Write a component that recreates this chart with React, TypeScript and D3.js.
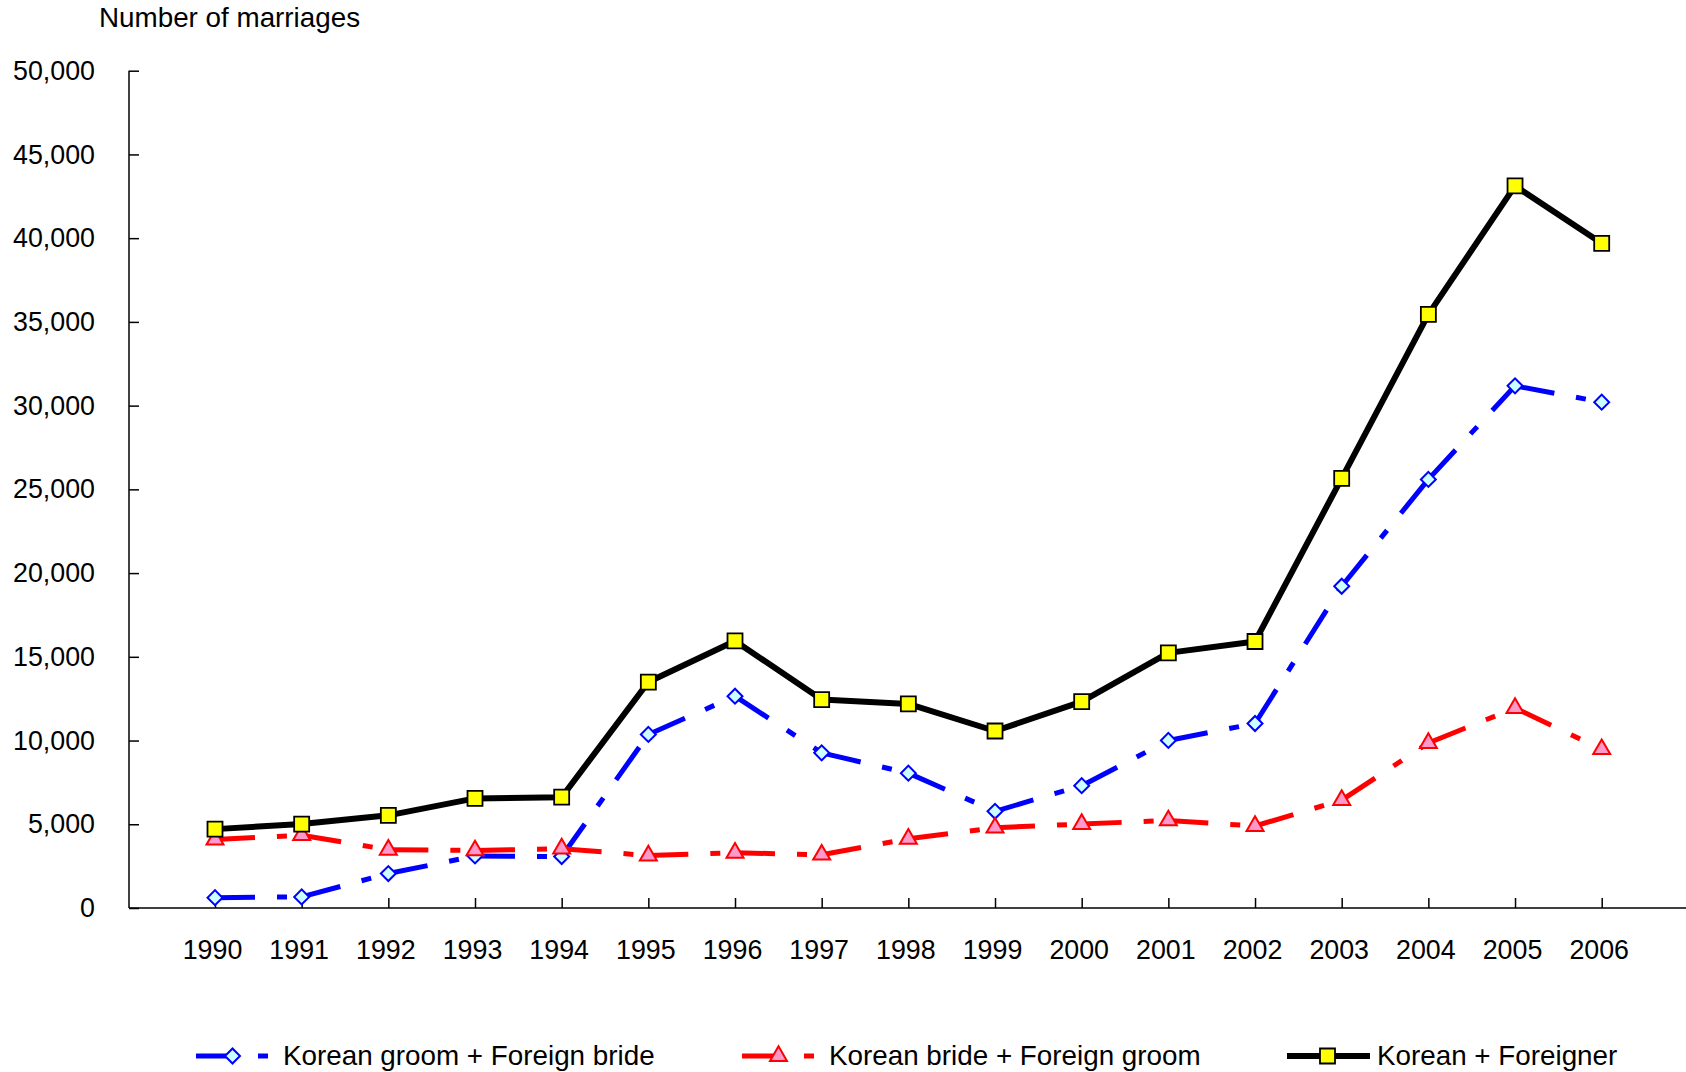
import React, { useEffect, useRef } from 'react';
import * as d3 from 'd3';

// Years on the category axis
const years = ['1990', '1991', '1992', '1993', '1994', '1995', '1996', '1997', '1998', '1999',
  '2000', '2001', '2002', '2003', '2004', '2005', '2006'];

// Korean groom + Foreign bride
const groomForeignBride = [619, 663, 2057, 3109, 3072, 10365, 12647, 9266, 8054, 5775,
  7304, 10006, 11017, 19214, 25594, 31180, 30208];

// Korean bride + Foreign groom
const brideForeignGroom = [4091, 4349, 3477, 3436, 3544, 3129, 3299, 3182, 4134, 4795,
  5015, 5228, 4896, 6444, 9853, 11941, 9482];

// Korean + Foreigner (total)
const koreanForeigner = [4710, 5012, 5534, 6545, 6616, 13494, 15946, 12448, 12188, 10570,
  12319, 15234, 15913, 25658, 35447, 43121, 39690];

const yTicks = [0, 5000, 10000, 15000, 20000, 25000, 30000, 35000, 40000, 45000, 50000];

const seriesNames = ['Korean groom + Foreign bride', 'Korean bride + Foreign groom', 'Korean + Foreigner'];

const App = () => {
  const chartRef = useRef<SVGSVGElement>(null);

  useEffect(() => {
    drawChart();
  }, []);

  const drawChart = () => {
    const width = 1686;
    const height = 1072;
    const font = "'Liberation Sans', Arial, sans-serif";

    const svg = d3.select(chartRef.current);
    svg.selectAll('*').remove();
    svg.attr('width', width).attr('height', height)
      .attr('viewBox', [0, 0, width, height] as any)
      .attr('style', 'position: absolute; left: 0; top: 0; background: white;');

    const x = d3.scalePoint<string>().domain(years).range([215, 1601.7]);
    const y = d3.scaleLinear().domain([0, 50000]).range([908, 70.7]);

    // y axis
    const yAxis = svg.append('g')
      .attr('transform', 'translate(129,0)')
      .call(d3.axisLeft(y).tickValues(yTicks).tickSize(-10).tickPadding(34)
        .tickFormat((d: any) => d3.format(',')(d)));
    yAxis.select('.domain').remove();
    yAxis.selectAll('line').attr('stroke', '#000').attr('stroke-width', 1.5);
    yAxis.selectAll('text').attr('font-family', font).attr('font-size', 26.8).attr('fill', '#000');
    svg.append('line')
      .attr('x1', 129).attr('x2', 129).attr('y1', y(50000)).attr('y2', y(0))
      .attr('stroke', '#000').attr('stroke-width', 1.5);

    // x axis
    const xAxis = svg.append('g')
      .attr('transform', `translate(0,${y(0)})`)
      .call(d3.axisBottom(x).tickSize(-10).tickPadding(32));
    xAxis.select('.domain').remove();
    xAxis.selectAll('line').attr('stroke', '#000').attr('stroke-width', 1.5);
    xAxis.selectAll('text').attr('font-family', font).attr('font-size', 26.8).attr('fill', '#000')
      .attr('dx', -3);
    svg.append('line')
      .attr('x1', 129).attr('x2', width).attr('y1', y(0)).attr('y2', y(0))
      .attr('stroke', '#000').attr('stroke-width', 1.5);

    // axis title
    svg.append('text')
      .attr('x', 99).attr('y', 27)
      .attr('font-family', font).attr('font-size', 27.8).attr('fill', '#000')
      .text('Number of marriages');

    const dash = '40 22 10 22';

    const symbols = [
      { path: d3.symbol().type(d3.symbolSquare).size(112)(), rotate: 45, fill: '#CCFFFF', stroke: '#0000FF', sw: 2 },
      { path: d3.symbol().type(d3.symbolTriangle).size(125)(), rotate: 0, fill: '#FF99CC', stroke: '#FF0000', sw: 2 },
      { path: d3.symbol().type(d3.symbolSquare).size(225)(), rotate: 0, fill: '#FFFF00', stroke: '#000000', sw: 1.8 },
    ];

    const series = [
      { values: groomForeignBride, color: '#0000FF', width: 5, dash },
      { values: brideForeignGroom, color: '#FF0000', width: 5, dash },
      { values: koreanForeigner, color: '#000000', width: 6, dash: null },
    ];

    series.forEach((s, si) => {
      const pts = s.values.map((v, i) => [x(years[i]) as number, y(v)]);
      const g = svg.append('g');
      if (s.dash) {
        // dash pattern restarts on every segment
        g.selectAll('line')
          .data(d3.pairs(pts))
          .join('line')
          .attr('x1', d => d[0][0]).attr('y1', d => d[0][1])
          .attr('x2', d => d[1][0]).attr('y2', d => d[1][1])
          .attr('stroke', s.color).attr('stroke-width', s.width)
          .attr('stroke-dasharray', s.dash);
      } else {
        g.append('path')
          .attr('d', d3.line()(pts as any))
          .attr('fill', 'none').attr('stroke', s.color).attr('stroke-width', s.width)
          .attr('stroke-linejoin', 'round');
      }
      const sym = symbols[si];
      g.selectAll('path.marker')
        .data(pts)
        .join('path')
        .attr('class', 'marker')
        .attr('d', sym.path)
        .attr('transform', d => `translate(${d[0]},${d[1]}) rotate(${sym.rotate})`)
        .attr('fill', sym.fill).attr('stroke', sym.stroke).attr('stroke-width', sym.sw);
    });

    // legend
    const legendX = [196, 742, 1287];
    const legendLen = [75, 75, 83];
    const legendGap = [12, 12, 7];
    const legendY = 1056;
    seriesNames.forEach((name, si) => {
      const s = series[si];
      const sym = symbols[si];
      const g = svg.append('g');
      const x0 = legendX[si];
      const x1 = x0 + legendLen[si];
      g.append('line')
        .attr('x1', x0).attr('x2', x1).attr('y1', legendY).attr('y2', legendY)
        .attr('stroke', s.color).attr('stroke-width', s.width)
        .attr('stroke-dasharray', s.dash ?? null);
      g.append('path')
        .attr('d', sym.path)
        .attr('transform', `translate(${(x0 + x1) / 2 - 1},${legendY}) rotate(${sym.rotate})`)
        .attr('fill', sym.fill).attr('stroke', sym.stroke).attr('stroke-width', sym.sw);
      g.append('text')
        .attr('x', x1 + legendGap[si]).attr('y', legendY + 9)
        .attr('font-family', font).attr('font-size', 27.8).attr('fill', '#000')
        .text(name);
    });
  };

  return <svg ref={chartRef}></svg>;
};

export default App;
